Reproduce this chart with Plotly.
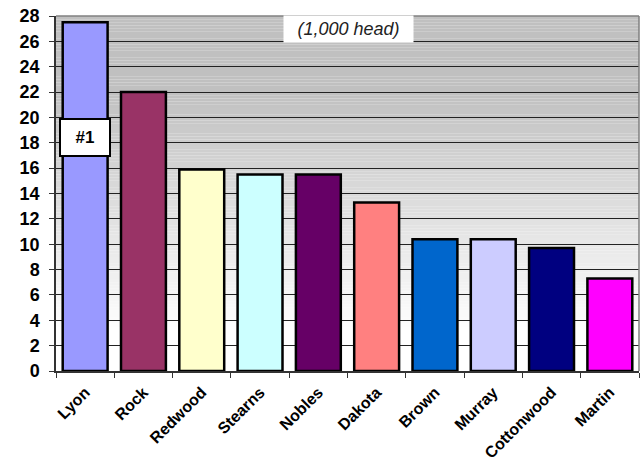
import plotly.graph_objects as go

counties = ["Lyon", "Rock", "Redwood", "Stearns", "Nobles", "Dakota", "Brown", "Murray", "Cottonwood", "Martin"]
head_thousands = [27.5, 22.0, 15.9, 15.5, 15.5, 13.3, 10.4, 10.4, 9.7, 7.3]
bar_colors = ["#9999FF", "#993366", "#FFFFCC", "#CCFFFF", "#660066", "#FF8080", "#0066CC", "#CCCCFF", "#000080", "#FF00FF"]
y_ticks = list(range(0, 29, 2))
unit_label = "(1,000 head)"
rank_label = "#1"

fig = go.Figure()
fig.add_trace(go.Bar(
    x=counties, y=head_thousands,
    marker=dict(color=bar_colors, line=dict(color="black", width=2.5)),
    width=0.77, hoverinfo="skip",
))

# gradient background (gray at top to white at bottom)
shapes = []
n = 112
for i in range(n):
    v0 = 28 * i / n
    v1 = 28 * (i + 1) / n
    vm = (v0 + v1) / 2
    t = min(max((vm - 3) / (22 - 3), 0), 1)
    c = int(round(255 - t * (255 - 192)))
    shapes.append(dict(type="rect", xref="paper", yref="y", x0=0, x1=1, y0=v0, y1=v1,
                       fillcolor=f"rgb({c},{c},{c})", line=dict(width=0), layer="below"))
# right/top border of plot area
shapes.append(dict(type="line", xref="paper", yref="paper", x0=1, x1=1, y0=0, y1=1,
                   line=dict(color="#808080", width=1.5)))
shapes.append(dict(type="line", xref="paper", yref="paper", x0=0, x1=1, y0=1, y1=1,
                   line=dict(color="#808080", width=1.5)))

fig.update_layout(
    width=644, height=470,
    margin=dict(l=56, r=5, t=16, b=99),
    paper_bgcolor="white", plot_bgcolor="white",
    showlegend=False, shapes=shapes, bargap=0.23,
    font=dict(family="Arial, Liberation Sans", color="black"),
    xaxis=dict(
        tickangle=-45, tickfont=dict(size=16, family="Arial, Liberation Sans", weight="bold"),
        showline=True, linecolor="#333", linewidth=1.5,
        ticks="outside", ticklen=5, tickcolor="#333", tickson="boundaries",
        ticklabelstandoff=4,
        showgrid=False, automargin=False,
    ),
    yaxis=dict(
        range=[0, 28], tickvals=y_ticks, ticktext=[str(t) for t in y_ticks],
        tickfont=dict(size=18, family="Arial, Liberation Sans", weight="bold"),
        showline=True, linecolor="#333", linewidth=1.5,
        ticks="outside", ticklen=5, tickcolor="#333", ticklabelstandoff=6,
        showgrid=True, gridcolor="#222", gridwidth=1, zeroline=False, automargin=False,
    ),
    annotations=[
        dict(text="<i>" + unit_label + "</i>", xref="paper", yref="paper", x=0.501, y=1.0,
             xanchor="center", yanchor="top", showarrow=False, bgcolor="white",
             font=dict(size=18, color="#222"), width=127, height=24, yshift=1),
        dict(text="<b>" + rank_label + "</b>", xref="x", yref="y", x=counties[0], y=18.4,
             showarrow=False, bgcolor="white", bordercolor="black", borderwidth=2,
             font=dict(size=17, color="black"), width=46, height=33, xshift=0),
    ],
)

fig.write_html("out.html", config={"displayModeBar": False},
               post_script="document.body.style.margin='0';")
